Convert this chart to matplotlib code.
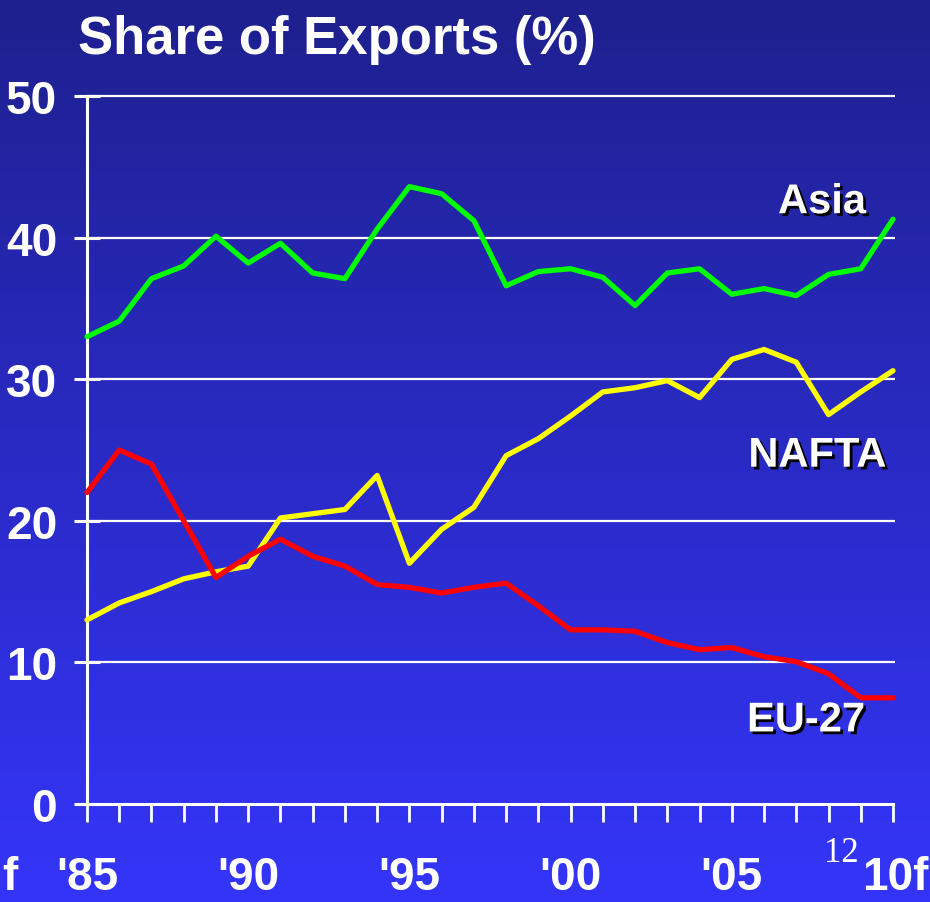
import numpy as np
import matplotlib
matplotlib.use("Agg")
import matplotlib.pyplot as plt
import matplotlib.patheffects as pe
from matplotlib import font_manager as fm

years = list(range(1985, 2011))
asia = [33.0, 34.1, 37.1, 38.0, 40.1, 38.2, 39.6, 37.5, 37.1, 40.6, 43.6, 43.1, 41.2,
        36.6, 37.6, 37.8, 37.2, 35.2, 37.5, 37.8, 36.0, 36.4, 35.9, 37.4, 37.8, 41.3]
nafta = [13.0, 14.2, 15.0, 15.9, 16.4, 16.8, 20.2, 20.5, 20.8, 23.2, 17.0, 19.4, 20.95,
         24.6, 25.8, 27.4, 29.1, 29.4, 29.9, 28.7, 31.4, 32.1, 31.2, 27.5, 29.1, 30.6]
eu27 = [22.0, 25.0, 24.0, 20.0, 16.0, 17.5, 18.7, 17.5, 16.8, 15.5, 15.3, 14.9, 15.3,
        15.6, 14.0, 12.3, 12.3, 12.2, 11.4, 10.9, 11.05, 10.4, 10.05, 9.2, 7.5, 7.5]
xtick_pos = [1985, 1990, 1995, 2000, 2005, 2010]
xtick_labels = ["'85", "'90", "'95", "'00", "'05", "10f"]
yticks = [0, 10, 20, 30, 40, 50]

names = {f.name for f in fm.fontManager.ttflist}
narrow = "Liberation Sans Narrow" if "Liberation Sans Narrow" in names else "Liberation Sans"
sans = "Liberation Sans"

fig = plt.figure(figsize=(9.3, 9.03), dpi=100)

# gradient background
bg = fig.add_axes([0, 0, 1, 1], zorder=-10)
top = np.array([0x1e, 0x20, 0x8e]) / 255
bot = np.array([0x35, 0x35, 0xfa]) / 255
t = np.linspace(0, 1, 256)[:, None]
grad = (top[None, :] * (1 - t) + bot[None, :] * t)[:, None, :]
bg.imshow(grad, aspect="auto", extent=[0, 1, 0, 1], origin="upper")
bg.set_axis_off()

ax = fig.add_axes([87 / 930, (903 - 805) / 903, (893 - 87) / 930, (805 - 97) / 903])
ax.set_facecolor("none")

ax.set_xlim(1985, 2010)
ax.set_ylim(0, 50)

for v in yticks[1:]:
    ax.plot([1985, 2010.07], [v, v], color="white", lw=1.6, zorder=1, clip_on=False,
            solid_capstyle="butt")

lw = 3.8
ax.plot(years, asia, color="#00ff00", lw=lw, zorder=3, clip_on=False, solid_capstyle="round")
ax.plot(years, nafta, color="#ffff00", lw=lw, zorder=3, clip_on=False, solid_capstyle="round")
ax.plot(years, eu27, color="#ff0000", lw=lw, zorder=3, clip_on=False, solid_capstyle="round")

for s in ["top", "right"]:
    ax.spines[s].set_visible(False)
for s in ["left", "bottom"]:
    ax.spines[s].set_color("white")
    ax.spines[s].set_linewidth(2.2)
    ax.spines[s].set_zorder(2)

fs_tick = 33
ax.set_yticks(yticks)
ax.set_yticklabels([str(v) for v in yticks])
ax.tick_params(axis="y", direction="inout", length=19, width=2.2, color="white",
               labelcolor="white", pad=12)
ax.set_xticks(xtick_pos)
ax.set_xticklabels(xtick_labels[:-1] + [""])
ax.set_xticks(years, minor=True)
ax.tick_params(axis="x", which="both", direction="out", length=13, width=2, color="white")
ax.tick_params(axis="x", which="major", labelcolor="white", pad=24)
for lab in ax.get_yticklabels() + ax.get_xticklabels():
    lab.set_fontfamily(narrow)
    lab.set_fontweight("bold")
    lab.set_fontsize(fs_tick)
    lab.set_color("white")

# last x label, at the right edge as in the original slide
fig.text(862 / 930, 1 - 878 / 903, xtick_labels[-1], color="white", fontsize=fs_tick,
         fontweight="bold", family=narrow, ha="left", va="center")

fig.text(78 / 930, 1 - 40 / 903, "Share of Exports (%)", color="white", fontsize=38,
         fontweight="bold", family=sans, ha="left", va="center")

shadow = [pe.SimplePatchShadow(offset=(2, -2), shadow_rgbFace="black", alpha=1.0), pe.Normal()]
for txt, x, y in [("Asia", 2007.8, 42.5), ("NAFTA", 2007.65, 24.6), ("EU-27", 2007.3, 5.9)]:
    ax.text(x, y, txt, color="white", fontsize=30, fontweight="bold", family=sans,
            ha="center", va="center", path_effects=shadow, zorder=5)

fig.text(2 / 930, 1 - 878 / 903, "f", color="white", fontsize=fs_tick, fontweight="bold",
         family=narrow, ha="left", va="center")
fig.text(859 / 930, 1 - 854 / 903, "12", color="white", fontsize=25,
         family="Liberation Serif", ha="right", va="center")

fig.savefig("out.png", dpi=100)
